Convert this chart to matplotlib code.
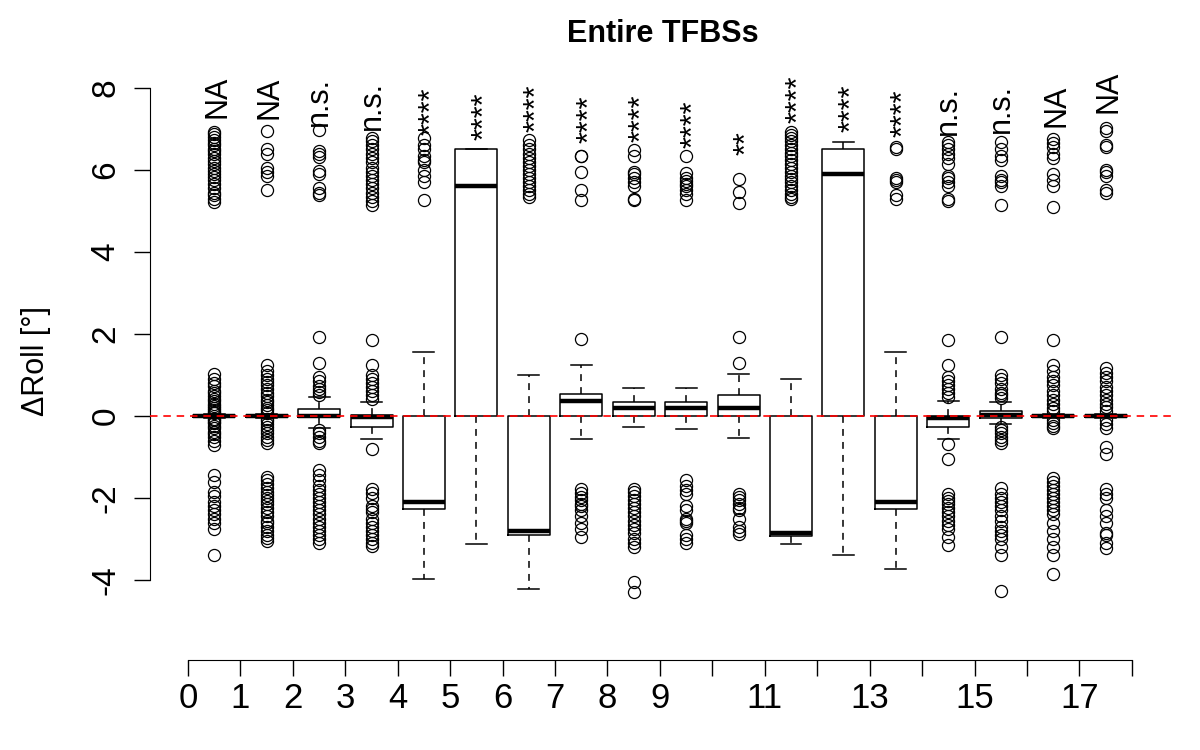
#!/usr/bin/env python3
"""Box plots of delta roll per position, entire TFBSs."""

import matplotlib
matplotlib.use("Agg")
import matplotlib.pyplot as plt
import matplotlib.transforms as mtransforms
import numpy as np

plt.rcParams["font.family"] = ["Liberation Sans", "DejaVu Sans"]

# --- box statistics (one entry per position 0..17) ---
medians = [0.0, 0.0, 0.0, -0.02, -2.1, 5.6, -2.8, 0.37, 0.19, 0.19,
           0.2, -2.85, 5.9, -2.1, -0.05, 0.02, 0.0, 0.0]
q1 = [-0.03, -0.03, -0.03, -0.28, -2.27, 0.0, -2.9, 0.0, 0.0, 0.0,
      0.0, -2.92, 0.0, -2.27, -0.26, -0.04, -0.02, -0.02]
q3 = [0.03, 0.03, 0.18, 0.02, 0.0, 6.5, 0.0, 0.54, 0.33, 0.33,
      0.5, 0.0, 6.5, 0.0, 0.0, 0.13, 0.03, 0.03]
whislo = [-0.05, -0.05, -0.3, -0.57, -3.98, -3.12, -4.22, -0.57, -0.26, -0.32,
          -0.53, -3.12, -3.39, -3.74, -0.56, -0.2, -0.04, -0.04]
whishi = [0.05, 0.05, 0.47, 0.34, 1.55, 6.5, 1.0, 1.24, 0.68, 0.68,
          1.02, 0.9, 6.69, 1.55, 0.36, 0.34, 0.05, 0.05]

fliers = [
    [1.02, 0.9, 0.8, 0.72, 0.62, 0.55, 0.48, 0.42, 0.36, 0.3, 0.25, 0.2, 0.15, 0.1, 0.07,
     -0.07, -0.1, -0.14, -0.18, -0.24, -0.3, -0.38, -0.45, -0.52, -0.6, -0.7,
     6.93, 6.88, 6.8, 6.72, 6.65, 6.6, 6.52, 6.45, 6.4, 6.3, 6.22, 6.15, 6.05, 5.98,
     5.9, 5.82, 5.75, 5.65, 5.55, 5.45, 5.38, 5.3, 5.22,
     -1.45, -1.6, -1.85, -1.95, -2.1, -2.2, -2.3, -2.38, -2.5, -2.6, -2.75, -3.4],
    [1.24, 1.1, 1.0, 0.9, 0.82, 0.75, 0.65, 0.55, 0.48, 0.4, 0.33, 0.26, 0.2, 0.14, 0.08,
     -0.08, -0.13, -0.2, -0.28, -0.35, -0.42, -0.5, -0.58, -0.66,
     6.95, 6.5, 6.4, 6.05, 5.95, 5.85, 5.5,
     -1.48, -1.55, -1.65, -1.75, -1.85, -1.92, -2.0, -2.08, -2.15, -2.25, -2.35,
     -2.45, -2.55, -2.62, -2.7, -2.8, -2.9, -2.98, -3.05],
    [1.93, 1.3, 0.95, 0.85, 0.72, 0.65, 0.58, 0.52, -0.35, -0.42, -0.5, -0.6, -0.65,
     6.98, 6.45, 6.38, 6.32, 5.98, 5.9, 5.55, 5.45, 5.38,
     -1.32, -1.45, -1.55, -1.7, -1.8, -1.9, -2.0, -2.1, -2.2, -2.3, -2.4, -2.5,
     -2.6, -2.7, -2.8, -2.9, -3.0, -3.1],
    [1.85, 1.25, 1.0, 0.9, 0.8, 0.7, 0.6, 0.5, 0.42, -0.8,
     6.78, 6.7, 6.6, 6.5, 6.4, 6.3, 6.2, 6.05, 5.95, 5.85, 5.75, 5.65, 5.55, 5.45,
     5.35, 5.25, 5.15,
     -1.78, -1.88, -2.0, -2.2, -2.28, -2.35, -2.5, -2.6, -2.7, -2.8, -2.9, -3.0,
     -3.1, -3.18],
    [6.78, 6.6, 6.5, 6.35, 6.25, 6.2, 6.0, 5.85, 5.7, 5.27],
    [],
    [6.72, 6.6, 6.5, 6.4, 6.28, 6.2, 6.1, 6.0, 5.9, 5.8, 5.7, 5.6, 5.5, 5.42, 5.35],
    [1.87, 6.35, 6.33, 5.95, 5.5, 5.27,
     -1.78, -1.88, -1.98, -2.05, -2.15, -2.2, -2.3, -2.45, -2.6, -2.75, -2.95],
    [6.49, 6.35, 5.95, 5.9, 5.8, 5.7, 5.62, 5.3, 5.27,
     -1.78, -1.85, -1.95, -2.05, -2.15, -2.25, -2.35, -2.45, -2.55, -2.65, -2.75,
     -2.85, -3.0, -3.1, -3.19, -4.05, -4.28],
    [6.33, 5.92, 5.8, 5.72, 5.65, 5.6, 5.5, 5.42, 5.27,
     -1.55, -1.7, -1.8, -1.9, -2.2, -2.3, -2.5, -2.55, -2.6, -2.9, -3.0, -3.1],
    [1.3, 1.93, 5.78, 5.47, 5.2,
     -1.9, -1.98, -2.05, -2.15, -2.25, -2.3, -2.5, -2.7, -2.8, -2.87],
    [6.93, 6.85, 6.78, 6.7, 6.6, 6.5, 6.42, 6.35, 6.25, 6.15, 6.05, 5.95, 5.85,
     5.78, 5.7, 5.6, 5.5, 5.42, 5.35, 5.28],
    [],
    [6.55, 6.5, 5.8, 5.75, 5.7, 5.38, 5.3],
    [1.85, 1.25, 0.95, 0.85, 0.75, 0.65, 0.55, 0.47, -0.68, -1.05,
     6.69, 6.6, 6.5, 6.4, 6.3, 6.15, 5.85, 5.8, 5.7, 5.6, 5.3, 5.25,
     -1.9, -2.0, -2.08, -2.15, -2.25, -2.35, -2.45, -2.55, -2.65, -2.75, -2.95, -3.15],
    [1.93, 1.0, 0.9, 0.8, 0.65, 0.55, 0.5, 0.45,
     -0.28, -0.35, -0.42, -0.5, -0.58, -0.65,
     6.69, 6.5, 6.35, 6.25, 5.85, 5.75, 5.7, 5.6, 5.15,
     -1.75, -1.9, -2.0, -2.1, -2.2, -2.3, -2.45, -2.55, -2.7, -2.8, -2.9, -3.0,
     -3.2, -3.4, -4.27],
    [1.85, 1.25, 1.1, 0.95, 0.85, 0.75, 0.6, 0.5, 0.4, 0.3, 0.2, 0.12,
     -0.1, -0.18, -0.25, -0.3,
     6.75, 6.65, 6.55, 6.4, 6.3, 5.9, 5.75, 5.6, 5.1,
     -1.5, -1.6, -1.7, -1.8, -1.9, -2.0, -2.1, -2.2, -2.3, -2.4, -2.6, -2.8, -3.0,
     -3.2, -3.38, -3.85],
    [1.16, 1.05, 0.95, 0.85, 0.7, 0.6, 0.5, 0.4, 0.3, 0.22, 0.12,
     -0.1, -0.2, -0.3, -0.75, -0.93,
     7.02, 6.95, 6.6, 6.55, 6.0, 5.95, 5.85, 5.5, 5.45,
     -1.78, -1.9, -2.0, -2.3, -2.45, -2.6, -2.85, -2.9, -3.1, -3.22],
]

sig_labels = ["NA", "NA", "n.s.", "n.s.", "****", "****", "****", "****", "****",
              "****", "**", "****", "****", "****", "n.s.", "n.s.", "NA", "NA"]
# base height of each (vertical) significance label
label_y = [7.27, 7.24, 7.08, 6.98, 6.85, 6.73, 6.93, 6.66, 6.68, 6.54,
           6.37, 7.15, 6.93, 6.8, 6.85, 6.9, 7.05, 7.39]

xticks = np.arange(0, 19)
xtick_labels = [str(t) if (t <= 9 or t % 2 == 1) else "" for t in xticks]
yticks = [-4, -2, 0, 2, 4, 6, 8]

positions = np.arange(len(medians)) + 0.5
stats = [
    dict(med=m, q1=a, q3=b, whislo=lo, whishi=hi, fliers=f)
    for m, a, b, lo, hi, f in zip(medians, q1, q3, whislo, whishi, fliers)
]

fig = plt.figure(figsize=(12, 7.5), dpi=100)
ax = fig.add_axes([0.125, 0.12, 0.854, 0.8147])

ax.bxp(
    stats, positions=positions, widths=0.8, capwidths=0.4,
    boxprops=dict(color="black", lw=1.1),
    medianprops=dict(color="black", lw=3.2, solid_capstyle="butt"),
    whiskerprops=dict(color="black", lw=1.1, ls=(0, (4.5, 4))),
    capprops=dict(color="black", lw=1.1),
    flierprops=dict(marker="o", markerfacecolor="none", markeredgecolor="black",
                    markersize=8.7, markeredgewidth=0.9),
)
ax.axhline(0, color="red", ls=(0, (4.5, 3.5)), lw=1.2, zorder=5)

# rotated labels: baseline sits right of the box centre so the ink is centred
SIG_FS = 22
ink_mid = {"NA": 0.36, "n.s.": 0.26, "**": 0.55, "****": 0.55}
for x, lab, y in zip(positions, sig_labels, label_y):
    tr = mtransforms.offset_copy(ax.transData, fig=fig,
                                 x=ink_mid[lab] * SIG_FS, y=0, units="points")
    ax.text(x, y, lab, rotation=90, rotation_mode="anchor",
            ha="left", va="baseline", fontsize=SIG_FS, transform=tr)

ax.set_xlim(-0.725, 18.82)
ax.set_ylim(-5.95, 8.95)

for side in ["top", "right"]:
    ax.spines[side].set_visible(False)
ax.spines["left"].set_bounds(-4, 8)
ax.spines["bottom"].set_bounds(0, 18)

ax.set_yticks(yticks)
ax.set_yticklabels([str(t) for t in yticks], rotation=90, va="center", fontsize=24)
ax.set_xticks(xticks)
ax.set_xticklabels(xtick_labels, fontsize=25,
                   family=["Liberation Sans Narrow", "Liberation Sans"])
ax.tick_params(axis="y", direction="out", length=11.5, width=1, pad=9)
ax.tick_params(axis="x", direction="out", length=11.5, width=1, pad=4)

ax.set_title("Entire TFBSs", fontweight="bold", fontsize=22, pad=4)
ax.set_ylabel("ΔRoll [°]", fontsize=22)
ax.yaxis.set_label_coords(-0.097, 0.49)

fig.savefig("out.png", dpi=100)
